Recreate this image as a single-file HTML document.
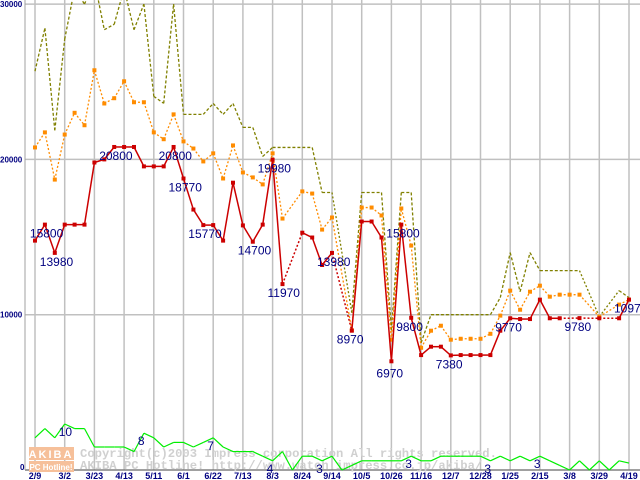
<!DOCTYPE html>
<html><head><meta charset="utf-8"><style>
body{margin:0;background:#fff;}
#c{position:relative;width:640px;height:480px;overflow:hidden;background:#fff;}
svg{position:absolute;left:0;top:0;}
</style></head><body>
<div id="c">
<svg id="s" width="640" height="480"></svg>
</div>
<script>
const xLabels=["2/9","3/2","3/23","4/13","5/11","6/1","6/22","7/13","8/3","8/24","9/14","10/5","10/26","11/16","12/7","12/28","1/25","2/15","3/8","3/29","4/19"];
const yTicks=[0,10000,20000,30000];
const minPrice=[14770,15800,13980,15800,15800,15800,19800,20000,20800,20800,20800,19550,19550,19550,20800,18770,16770,15770,15770,14770,18500,15750,14700,15800,19980,11970,null,15280,14970,13200,13980,null,8970,16000,16000,14970,7000,15800,9800,7400,7940,7940,7380,7400,7400,7400,7400,8970,9770,9720,9720,10970,9770,9770,null,9780,null,9770,null,9770,10970];
const avgPrice=[20770,21740,18700,21600,23000,22200,25740,23600,23940,25030,23680,23680,21740,21300,22900,21160,20700,19870,20390,18770,20900,19160,18840,18390,20390,16190,null,17940,17800,15480,16260,null,9000,16900,16900,16390,8390,16840,14450,7870,8970,9290,8390,8450,8450,8450,8770,9940,11550,10320,11480,11870,11160,11290,11290,11290,null,9870,null,10650,10970];
const maxPrice=[25680,28450,21870,27740,31000,30000,31500,28350,28700,31000,28350,30000,24060,23610,30000,22900,22900,22900,23600,22900,23600,22060,22060,20190,20770,20770,20770,20770,20770,17870,17870,null,10130,17870,17870,17870,9000,17870,17870,8190,10000,10000,10000,10000,10000,10000,10000,11100,14000,11480,14000,12840,12840,12840,12840,12840,null,9870,null,11550,11100];
const shopCount=[7,9,7,10,9,9,5,5,5,5,4,8,7,5,6,6,5,6,7,5,4,4,4,3,2,4,0,3,3,2,3,0,1,2,2,2,2,2,3,2,2,3,3,3,3,3,2,3,2,3,2,3,2,1,0,2,0,2,0,2,1.5];
const priceLabels=[[1,15800],[2,13980],[8,20800],[14,20800],[15,18770],[17,15770],[22,14700],[24,19980],[25,11970],[30,13980],[32,8970],[36,6970],[37,15800],[38,9800],[42,7380],[48,9770],[55,9780],[60,10970]];
const countLabels=[[3,10],[11,8],[18,7],[24,4],[29,3],[38,3],[46,3],[51,3]];

const S=document.getElementById('s');const NS='http://www.w3.org/2000/svg';
function xs(i){return 35+i*9.9;}
function ys(v){return 470-v*0.01553;}
function yc(c){return 470-c*4.6;}
function mk(t,a,p){const e=document.createElementNS(NS,t);for(const k in a)e.setAttribute(k,a[k]);(p||S).appendChild(e);return e;}
xLabels.forEach((l,k)=>{const x=35+k*29.7;
 const g=mk('line',{x1:x,y1:0,x2:x,y2:470,stroke:'#c0c0c0','stroke-width':1.5});
 
 
 const t=mk('text',{x:x,y:479,'text-anchor':'middle','font-family':'Liberation Sans, sans-serif','font-size':9,'font-weight':'bold',fill:'#000080'});t.textContent=l;
 
 
});
yTicks.forEach(v=>{const y=ys(v);
 const g=mk('line',{x1:25,y1:y,x2:640,y2:y,stroke:v===0?'#808080':'#c0c0c0','stroke-width':1.5});
 
 
 const t=mk('text',{x:v===0?20:0,y:v===0?y:y+3,'font-family':'Liberation Sans, sans-serif','font-size':8,'font-weight':'bold',fill:'#000080'});t.textContent=String(v);
 
 
});
const ax=mk('line',{x1:25,y1:0,x2:25,y2:470,stroke:'#a0a0a0','stroke-width':1});


const lg=mk('g',{});


mk('rect',{x:29,y:447,width:45,height:13,fill:'#f6c09a'},lg);
mk('rect',{x:29,y:461,width:45,height:11,fill:'#f6c09a'},lg);
const l1=mk('text',{x:51,y:458,'text-anchor':'middle','font-family':'Liberation Sans, sans-serif','font-size':11,'font-weight':'bold',fill:'#fff','letter-spacing':2},lg);l1.textContent='AKIBA';
const l2=mk('text',{x:51,y:470,'text-anchor':'middle','font-family':'Liberation Sans, sans-serif','font-size':8,'font-weight':'bold',fill:'#fff'},lg);l2.textContent='PC Hotline!';
const w1=mk('text',{x:80,y:457,'font-family':'Liberation Mono, monospace','font-size':12.2,'font-weight':'bold',fill:'#d0d0d0'});w1.textContent='Copyright(c)2003 Impress corporation All rights reserved.';


const w2=mk('text',{x:80,y:469,'font-family':'Liberation Mono, monospace','font-size':12.2,'font-weight':'bold',fill:'#d0d0d0'});w2.textContent='AKIBA PC Hotline!  http://www.watch.impress.co.jp/akiba/';


function series(arr,name,color,w,dash,marker,yf){
 const g=mk('g',{});
 
 
 let prev=-1;
 arr.forEach((v,i)=>{if(v===null)return;
  if(prev>=0){const gap=i-prev>1;
   mk('line',{x1:xs(prev),y1:yf(arr[prev]),x2:xs(i),y2:yf(v),stroke:color,'stroke-width':w,'stroke-dasharray':gap?'2,2':(dash||'none')},g);}
  prev=i;});
 if(marker)arr.forEach((v,i)=>{if(v===null)return;
  const r=mk('rect',{x:xs(i)-2,y:yf(v)-2,width:4,height:4,fill:color},g);
  
  });
}
series(shopCount,'shop-count-line','#00ee00',1.2,null,false,yc);
series(maxPrice,'max-price-line','#808000',1.3,'3,2',false,ys);
series(avgPrice,'avg-price-line','#ff8c00',1.3,'2,2',true,ys);
series(minPrice,'min-price-line','#cc0000',1.5,null,true,ys);
priceLabels.forEach(([i,v])=>{
 const ty=ys(minPrice[i]===null?v:minPrice[i]);
 const t=mk('text',{x:xs(i)-15,y:Math.min(ty,470)+(i===36?16:13),'font-family':'Liberation Sans, sans-serif','font-size':12,fill:'#000080'});
 t.textContent=String(v);
 
 
});
countLabels.forEach(([i,c])=>{
 const t=mk('text',{x:xs(i)-6,y:yc(shopCount[i])+12,'font-family':'Liberation Sans, sans-serif','font-size':12,fill:'#000080'});
 t.textContent=String(c);
 
 
});
</script>
</body></html>
